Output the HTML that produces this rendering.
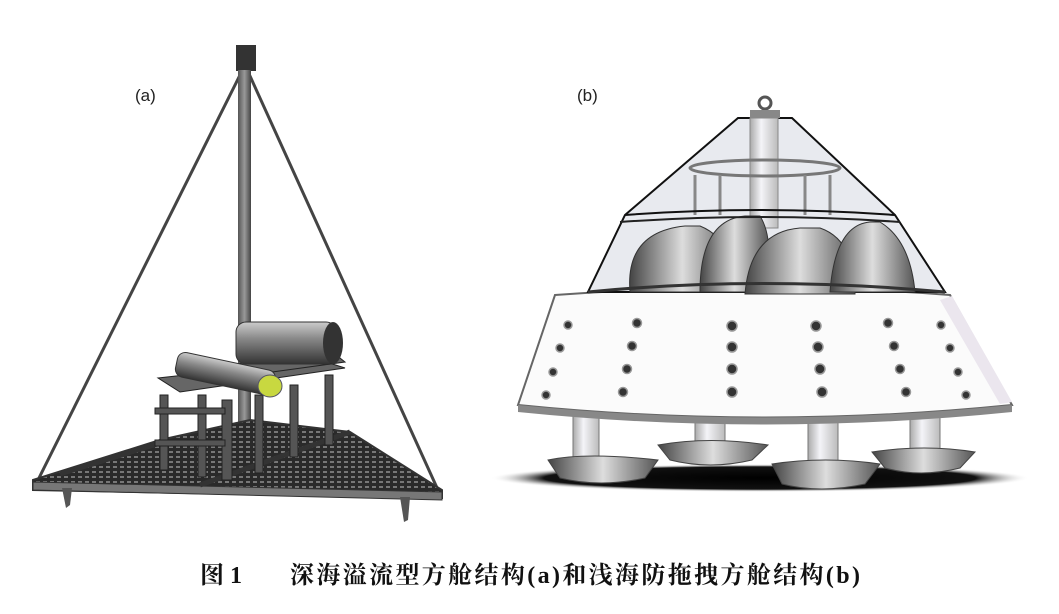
<!DOCTYPE html>
<html><head><meta charset="utf-8"><style>
html,body{margin:0;padding:0;background:#fff;}
svg{display:block}
</style></head><body>
<svg width="1059" height="614" viewBox="0 0 1059 614" xmlns="http://www.w3.org/2000/svg">
<defs>
<linearGradient id="pole" x1="0" x2="1"><stop offset="0" stop-color="#555"/><stop offset=".5" stop-color="#999"/><stop offset="1" stop-color="#444"/></linearGradient>
<linearGradient id="cyl" x1="0" y1="0" x2="0" y2="1"><stop offset="0" stop-color="#ccc"/><stop offset=".4" stop-color="#888"/><stop offset="1" stop-color="#333"/></linearGradient>
<linearGradient id="leg" x1="0" x2="1"><stop offset="0" stop-color="#aaa"/><stop offset=".4" stop-color="#f4f4f8"/><stop offset="1" stop-color="#bbb"/></linearGradient>
<linearGradient id="bowl" x1="0" x2="1"><stop offset="0" stop-color="#444"/><stop offset=".5" stop-color="#ddd"/><stop offset="1" stop-color="#555"/></linearGradient>
<pattern id="grid" width="7" height="5" patternUnits="userSpaceOnUse"><rect width="7" height="5" fill="#2a2a2a"/><rect x="1" y="1" width="4" height="2" fill="#777"/></pattern>
<radialGradient id="shadow" cx=".5" cy=".5" r=".5"><stop offset="0" stop-color="#000"/><stop offset=".8" stop-color="#111"/><stop offset="1" stop-color="#fff" stop-opacity="0"/></radialGradient>
</defs>

<text x="135" y="101" font-family="Liberation Sans, sans-serif" font-size="17" fill="#222">(a)</text>
<text x="577" y="101" font-family="Liberation Sans, sans-serif" font-size="17" fill="#222">(b)</text>

<!-- (a) -->
<line x1="245" y1="65" x2="36" y2="484" stroke="#444" stroke-width="3"/>
<line x1="245" y1="65" x2="438" y2="490" stroke="#444" stroke-width="3"/>
<rect x="236" y="45" width="20" height="26" fill="#333"/>
<rect x="238" y="70" width="13" height="395" fill="url(#pole)"/>
<polygon points="33,480 160,440 250,420 350,432 442,490 442,498 33,490" fill="url(#grid)" stroke="#333" stroke-width="2"/>
<polygon points="33,482 442,492 442,500 33,490" fill="#777" stroke="#333"/>
<polygon points="62,488 72,488 70,505 66,508" fill="#555"/>
<polygon points="400,497 410,497 408,520 404,522" fill="#555"/>
<line x1="60" y1="474" x2="170" y2="440" stroke="#333" stroke-width="5"/>
<line x1="200" y1="485" x2="350" y2="432" stroke="#333" stroke-width="5"/>
<g fill="#555" stroke="#222">
<rect x="160" y="395" width="8" height="75"/><rect x="198" y="395" width="8" height="82"/>
<rect x="222" y="400" width="10" height="80"/><rect x="255" y="395" width="8" height="78"/>
<rect x="290" y="385" width="8" height="72"/><rect x="325" y="375" width="8" height="70"/>
<rect x="155" y="408" width="70" height="6"/><rect x="155" y="440" width="70" height="6"/>
<polygon points="158,378 320,360 345,368 180,392" fill="#666"/>
<polygon points="230,365 330,350 345,362 250,375" fill="#666"/>
</g>
<rect x="236" y="322" width="100" height="42" rx="10" fill="url(#cyl)" stroke="#333"/>
<ellipse cx="333" cy="343" rx="10" ry="21" fill="#333"/>
<g transform="rotate(12 220 375)"><rect x="175" y="360" width="100" height="25" rx="8" fill="url(#cyl)" stroke="#333"/></g>
<ellipse cx="270" cy="386" rx="12" ry="11" fill="#c8d840" stroke="#556"/>

<!-- (b) -->
<ellipse cx="760" cy="478" rx="270" ry="14" fill="url(#shadow)"/>
<g fill="url(#leg)" stroke="#777">
<rect x="573" y="412" width="26" height="48"/><rect x="695" y="412" width="30" height="35"/>
<rect x="808" y="412" width="30" height="56"/><rect x="910" y="412" width="30" height="43"/>
</g>
<g stroke="#444" fill="url(#bowl)">
<path d="M548,460 Q586,452 658,460 L645,478 Q600,488 560,478 Z"/>
<path d="M658,445 Q710,436 768,445 L752,460 Q710,470 670,460 Z"/>
<path d="M772,464 Q825,456 880,464 L865,484 Q820,494 782,484 Z"/>
<path d="M872,452 Q925,444 975,452 L960,468 Q920,478 885,468 Z"/>
</g>
<path d="M555,295 Q760,280 950,295 L1012,405 Q765,430 518,405 Z" fill="#fbfbfb" stroke="#666" stroke-width="2"/>
<path d="M518,405 Q765,430 1012,405 L1012,412 Q765,437 518,412 Z" fill="#888"/>
<path d="M940,300 L952,296 L1012,402 L1000,404 Z" fill="#ebe6ee"/>
<g fill="#333" stroke="#999" stroke-width="1.5">
<circle cx="568" cy="325" r="4"/><circle cx="560" cy="348" r="4"/><circle cx="553" cy="372" r="4"/><circle cx="546" cy="395" r="4"/>
<circle cx="637" cy="323" r="4.5"/><circle cx="632" cy="346" r="4.5"/><circle cx="627" cy="369" r="4.5"/><circle cx="623" cy="392" r="4.5"/>
<circle cx="732" cy="326" r="5"/><circle cx="732" cy="347" r="5"/><circle cx="732" cy="369" r="5"/><circle cx="732" cy="392" r="5"/>
<circle cx="816" cy="326" r="5"/><circle cx="818" cy="347" r="5"/><circle cx="820" cy="369" r="5"/><circle cx="822" cy="392" r="5"/>
<circle cx="888" cy="323" r="4.5"/><circle cx="894" cy="346" r="4.5"/><circle cx="900" cy="369" r="4.5"/><circle cx="906" cy="392" r="4.5"/>
<circle cx="941" cy="325" r="4"/><circle cx="950" cy="348" r="4"/><circle cx="958" cy="372" r="4"/><circle cx="966" cy="395" r="4"/>
</g>
<!-- dome -->
<polygon points="738,118 792,118 895,215 945,292 588,292 625,215" fill="#e8eaef" stroke="#111" stroke-width="2"/>
<rect x="750" y="118" width="28" height="110" fill="url(#leg)" stroke="#888"/>
<ellipse cx="765" cy="168" rx="75" ry="8" fill="none" stroke="#777" stroke-width="3"/>
<g stroke="#888" stroke-width="3"><line x1="695" y1="175" x2="695" y2="215"/><line x1="720" y1="175" x2="720" y2="215"/><line x1="805" y1="175" x2="805" y2="215"/><line x1="830" y1="175" x2="830" y2="215"/></g>
<g fill="url(#bowl)" stroke="#333">
<path d="M630,292 Q625,232 685,226 L700,226 Q735,240 735,292 Z"/>
<path d="M700,292 Q700,220 745,216 L760,216 Q775,240 765,292 Z"/>
<path d="M745,294 Q750,232 800,228 L820,228 Q855,240 855,294 Z"/>
<path d="M830,292 Q835,225 870,222 L880,222 Q910,240 915,292 Z"/>
</g>
<path d="M625,215 Q760,205 895,215" fill="none" stroke="#111" stroke-width="2"/>
<path d="M620,222 Q760,212 900,222" fill="none" stroke="#222" stroke-width="2"/>
<path d="M588,292 Q760,275 945,292" fill="none" stroke="#333" stroke-width="3"/>
<circle cx="765" cy="103" r="6" fill="none" stroke="#555" stroke-width="3"/>
<rect x="750" y="110" width="30" height="8" fill="#888"/>

<text x="200" y="583" font-family="Liberation Serif, 'Noto Serif CJK SC', serif" font-size="24" font-weight="bold" fill="#111">图 1</text>
<text x="290" y="583" textLength="570" lengthAdjust="spacing" font-family="Liberation Serif, 'Noto Serif CJK SC', serif" font-size="24" font-weight="bold" fill="#111">深海溢流型方舱结构(a)和浅海防拖拽方舱结构(b)</text>
</svg>
</body></html>
